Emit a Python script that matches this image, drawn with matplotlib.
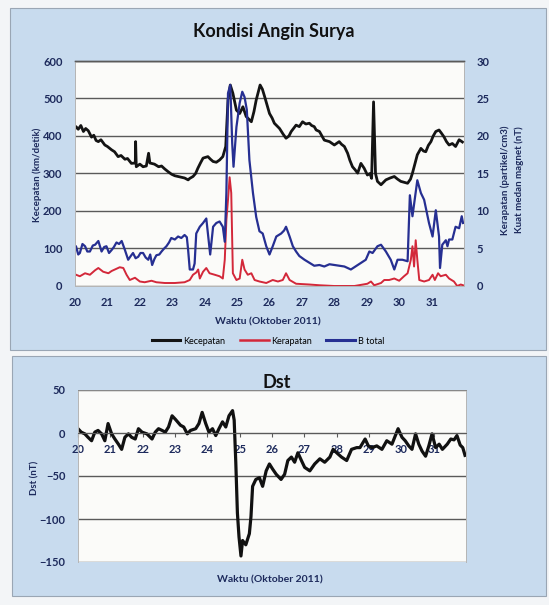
import matplotlib
matplotlib.use('Agg')
import matplotlib.pyplot as plt
from matplotlib.patches import Rectangle
from matplotlib.lines import Line2D

plt.rcParams['font.family'] = ['Lato', 'DejaVu Sans']

# --- data (day of October 2011, value) ---
kec_day = [20.00, 20.03, 20.10, 20.18, 20.26, 20.33, 20.41, 20.51, 20.58, 20.65, 20.72, 20.80, 20.92,
           21.00, 21.13, 21.22, 21.33, 21.42, 21.54, 21.62, 21.74, 21.86, 21.87, 21.89, 22.00, 22.10,
           22.20, 22.27, 22.31, 22.45, 22.58, 22.67, 22.77, 22.87, 22.98, 23.08, 23.18, 23.28, 23.38,
           23.49, 23.54, 23.64, 23.72, 23.79, 23.87, 23.95, 24.10, 24.18, 24.26, 24.36, 24.46, 24.56,
           24.65, 24.72, 24.79, 24.87, 24.98, 25.08, 25.18, 25.28, 25.36, 25.44, 25.52, 25.59, 25.71,
           25.78, 25.85, 26.00, 26.08, 26.15, 26.31, 26.42, 26.51, 26.60, 26.67, 26.82, 26.92, 27.02,
           27.12, 27.23, 27.30, 27.38, 27.44, 27.54, 27.62, 27.69, 27.85, 28.00, 28.15, 28.22, 28.31,
           28.41, 28.48, 28.56, 28.64, 28.72, 28.82, 28.92, 29.02, 29.10, 29.15, 29.21, 29.27, 29.33,
           29.44, 29.59, 29.72, 29.85, 29.95, 30.05, 30.26, 30.35, 30.41, 30.50, 30.56, 30.67, 30.75,
           30.82, 30.90, 30.98, 31.05, 31.13, 31.23, 31.30, 31.38, 31.46, 31.54, 31.64, 31.74, 31.85,
           31.95]
kecepatan = [420, 425, 418, 428, 412, 420, 414, 397, 402, 388, 385, 390, 376,
             372, 363, 358, 345, 348, 338, 340, 327, 328, 385, 318, 325, 318,
             320, 354, 328, 325, 318, 320, 312, 305, 298, 294, 292, 290, 288,
             283, 287, 292, 300, 314, 328, 341, 345, 338, 332, 330, 336, 345,
             372, 496, 536, 514, 469, 460, 478, 452, 445, 438, 465, 496, 536,
             525, 505, 460, 448, 434, 420, 405, 394, 400, 412, 429, 425, 438,
             432, 434, 428, 425, 416, 412, 400, 389, 385, 376, 385, 378, 372,
             354, 335, 318, 310, 301, 327, 314, 296, 300, 287, 491, 300, 279,
             270, 283, 288, 292, 285, 279, 274, 285, 301, 330, 350, 367, 360,
             358, 375, 385, 400, 412, 416, 408, 398, 385, 376, 380, 372, 390,
             384]

rap_day = [20.00, 20.03, 20.15, 20.31, 20.46, 20.62, 20.72, 20.87, 21.03, 21.13, 21.23, 21.38, 21.49,
           21.59, 21.69, 21.85, 22.00, 22.15, 22.36, 22.51, 22.77, 23.08, 23.38, 23.54, 23.64, 23.74,
           23.80, 23.85, 23.95, 24.05, 24.15, 24.31, 24.46, 24.56, 24.62, 24.67, 24.72, 24.77, 24.82,
           24.87, 24.98, 25.08, 25.16, 25.23, 25.33, 25.44, 25.54, 25.69, 25.90, 26.10, 26.26, 26.41,
           26.51, 26.62, 26.82, 27.23, 27.54, 28.00, 28.62, 29.02, 29.13, 29.23, 29.44, 29.54, 29.69,
           29.85, 30.00, 30.15, 30.26, 30.36, 30.41, 30.46, 30.51, 30.56, 30.62, 30.77, 30.92, 31.03,
           31.10, 31.20, 31.28, 31.44, 31.54, 31.69, 31.79, 31.90, 31.97]
kerapatan = [1.6, 1.5, 1.3, 1.7, 1.5, 2.1, 2.4, 1.9, 1.7, 2.0, 2.2, 2.5, 2.4,
             1.5, 0.8, 1.1, 0.6, 0.5, 0.7, 0.5, 0.4, 0.4, 0.5, 0.8, 1.5, 1.8,
             2.2, 1.0, 1.9, 2.4, 1.7, 1.5, 1.3, 1.0, 3.5, 8.8, 11.5, 14.5, 12.4,
             1.7, 0.8, 1.0, 3.5, 2.2, 1.5, 1.7, 0.8, 0.6, 0.4, 0.8, 0.6, 0.8,
             1.7, 0.8, 0.3, 0.2, 0.1, 0.0, 0.0, 0.3, 0.6, 0.1, 0.4, 0.8, 0.8,
             1.0, 0.7, 1.3, 1.7, 3.5, 5.3, 2.6, 6.1, 3.5, 0.8, 0.6, 0.8, 1.5,
             0.8, 1.7, 1.3, 1.5, 1.0, 0.6, 0.0, 0.2, 0.1]

b_day = [20.00, 20.03, 20.10, 20.15, 20.23, 20.31, 20.38, 20.46, 20.55, 20.62, 20.72, 20.82, 20.90,
         20.97, 21.05, 21.13, 21.20, 21.28, 21.36, 21.44, 21.54, 21.64, 21.72, 21.79, 21.87, 21.95,
         22.02, 22.10, 22.18, 22.26, 22.32, 22.38, 22.45, 22.51, 22.60, 22.67, 22.75, 22.82, 22.90,
         22.97, 23.08, 23.18, 23.28, 23.38, 23.45, 23.49, 23.54, 23.64, 23.69, 23.74, 23.85, 23.95,
         24.05, 24.10, 24.17, 24.26, 24.36, 24.46, 24.56, 24.62, 24.67, 24.72, 24.79, 24.85, 24.89,
         24.98, 25.08, 25.16, 25.23, 25.30, 25.38, 25.49, 25.59, 25.69, 25.79, 25.90, 26.00, 26.10,
         26.21, 26.36, 26.45, 26.51, 26.62, 26.72, 26.82, 26.92, 27.08, 27.23, 27.38, 27.54, 27.69,
         27.85, 28.00, 28.15, 28.31, 28.51, 28.72, 28.97, 29.08, 29.18, 29.33, 29.44, 29.59, 29.74,
         29.85, 29.95, 30.10, 30.26, 30.33, 30.41, 30.48, 30.56, 30.67, 30.77, 30.92, 31.03, 31.13,
         31.23, 31.26, 31.33, 31.44, 31.49, 31.54, 31.64, 31.74, 31.85, 31.93, 31.97]
b_total = [5.2, 5.3, 4.2, 4.4, 5.6, 5.3, 4.6, 4.6, 5.4, 5.5, 6.0, 4.6, 5.2,
           5.3, 4.4, 4.8, 5.2, 5.8, 5.6, 6.0, 4.8, 3.5, 4.0, 4.4, 3.7, 3.9,
           4.4, 4.4, 3.8, 3.5, 4.2, 2.8, 3.6, 4.1, 4.2, 4.6, 5.0, 5.3, 5.8,
           6.4, 6.2, 6.6, 6.4, 6.8, 6.5, 4.8, 2.2, 2.2, 3.0, 7.0, 7.9, 8.4,
           9.0, 7.0, 4.2, 7.9, 8.4, 8.6, 7.9, 5.9, 12.4, 25.7, 26.8, 19.0, 15.9,
           21.2, 24.4, 25.9, 25.2, 23.5, 16.8, 12.4, 9.2, 7.3, 7.0, 5.3, 4.2, 5.3,
           6.6, 7.0, 7.4, 7.9, 6.6, 5.3, 4.6, 4.0, 3.5, 3.1, 2.7, 2.8, 2.6,
           2.9, 2.8, 2.7, 2.6, 2.2, 2.8, 3.5, 4.6, 4.4, 5.3, 5.5, 4.6, 3.5,
           2.2, 3.5, 3.5, 3.3, 12.1, 9.3, 11.5, 14.1, 12.4, 11.5, 8.4, 6.6, 10.1,
           6.6, 2.4, 5.5, 6.1, 5.3, 6.2, 6.2, 7.9, 7.7, 9.3, 8.4]

dst_day = [20.00, 20.10, 20.21, 20.31, 20.42, 20.52, 20.62, 20.73, 20.83, 20.93, 21.04, 21.14, 21.25,
           21.35, 21.45, 21.56, 21.66, 21.77, 21.87, 21.98, 22.13, 22.29, 22.39, 22.49, 22.60, 22.70,
           22.80, 22.91, 23.01, 23.17, 23.27, 23.38, 23.48, 23.64, 23.74, 23.84, 23.95, 24.05, 24.16,
           24.26, 24.36, 24.47, 24.57, 24.67, 24.78, 24.83, 24.88, 24.93, 24.98, 25.04, 25.09, 25.19,
           25.30, 25.35, 25.40, 25.50, 25.61, 25.71, 25.82, 25.92, 26.02, 26.13, 26.28, 26.39, 26.49,
           26.60, 26.70, 26.80, 26.91, 27.01, 27.17, 27.32, 27.48, 27.63, 27.79, 27.89, 28.00, 28.15,
           28.31, 28.46, 28.62, 28.72, 28.88, 28.98, 29.09, 29.24, 29.40, 29.55, 29.71, 29.90, 30.02,
           30.12, 30.23, 30.33, 30.44, 30.54, 30.64, 30.75, 30.85, 30.95, 31.06, 31.17, 31.27, 31.42,
           31.53, 31.63, 31.72, 31.82, 31.90, 31.97]
dst = [5, 1, -1, -5, -9, 1, 3, -1, -9, 11, -1, -7, -13,
       -19, -5, -1, -5, -7, 5, 1, -1, -7, 1, 5, 3, 1,
       7, 20, 16, 9, 7, -1, 3, 5, 11, 24, 11, 1, 5,
       -3, 5, 13, 7, 20, 26, 15, -34, -93, -121, -143, -125, -130,
       -117, -97, -62, -54, -52, -62, -44, -36, -42, -48, -54, -48, -32,
       -28, -34, -23, -32, -40, -44, -36, -30, -34, -28, -19, -23, -28,
       -32, -19, -17, -17, -7, -15, -17, -15, -19, -9, -13, 5, -5,
       -9, -15, -19, -1, -13, -21, -27, -15, -1, -17, -13, -19, -13,
       -7, -8, -3, -14, -17, -26]

days = list(range(20, 32))

navy = '#1d2a5c'
panel_blue = '#c8dbee'
grid_grey = '#5a5a5a'

fig = plt.figure(figsize=(5.49, 6.05), dpi=100, facecolor='#f3f5f7')

# light blue chart panels (behind the axes)
fig.patches.append(Rectangle((10/549, 1-350/605), 536/549, 342/605, transform=fig.transFigure,
                             facecolor=panel_blue, edgecolor='#9aa6b4', lw=0.8, zorder=-10))
fig.patches.append(Rectangle((12/549, 1-596/605), 534/549, 240/605, transform=fig.transFigure,
                             facecolor=panel_blue, edgecolor='#9aa6b4', lw=0.8, zorder=-10))

# ---------- Kondisi Angin Surya ----------
ax1 = fig.add_axes([75/549, 1-286/605, 389/549, 225/605])
ax1.set_facecolor('#fbfbf9')
ax1.plot(kec_day, kecepatan, color='#141414', lw=2.0, label='Kecepatan')
ax1.set_xlim(20, 32)
ax1.set_ylim(0, 600)
ax1.set_yticks(range(0, 601, 100))
ax1.set_xticks(days)
ax1.yaxis.grid(True, color=grid_grey, lw=1.0)
ax1.set_axisbelow(True)

ax2 = ax1.twinx()
ax2.plot(rap_day, kerapatan, color='#d3283a', lw=1.4, label='Kerapatan')
ax2.plot(b_day, b_total, color='#262f92', lw=1.6, label='B total')
ax2.set_ylim(0, 30)
ax2.set_yticks(range(0, 31, 5))

for a in (ax1, ax2):
    for s in a.spines.values():
        s.set_color('#b5b5b5')
        s.set_linewidth(0.7)
    a.spines['top'].set_color(grid_grey)
    a.spines['top'].set_linewidth(1.0)
ax1.tick_params(axis='both', length=0, labelsize=8, labelcolor=navy)
ax1.tick_params(axis='x', pad=8)
ax1.tick_params(axis='y', pad=9)
ax2.tick_params(axis='y', length=0, labelsize=8, labelcolor=navy, pad=9)
for lab in ax1.get_xticklabels() + ax1.get_yticklabels() + ax2.get_yticklabels():
    lab.set_fontweight('bold')

fig.text(274/549, 1-32/605, 'Kondisi Angin Surya', ha='center', va='center',
         fontsize=13, fontweight='bold', color='#111111')
fig.text(37/549, 1-175/605, 'Kecepatan (km/detik)', rotation=90, ha='center', va='center',
         fontsize=7, fontweight='bold', color=navy)
fig.text(505/549, 1-180/605, 'Kerapatan (partikel/cm3)', rotation=90, ha='center', va='center',
         fontsize=7, fontweight='bold', color=navy)
fig.text(519/549, 1-180/605, 'Kuat medan magnet (nT)', rotation=90, ha='center', va='center',
         fontsize=7, fontweight='bold', color=navy)
fig.text(268/549, 1-322/605, 'Waktu (Oktober 2011)', ha='center', va='center',
         fontsize=7.5, fontweight='bold', color=navy)

handles = [Line2D([], [], color='#141414', lw=2.2),
           Line2D([], [], color='#d3283a', lw=1.8),
           Line2D([], [], color='#262f92', lw=2.2)]
fig.legend(handles, ['Kecepatan', 'Kerapatan', 'B total'], loc='center',
           bbox_to_anchor=(268/549, 1-341/605), ncol=3, frameon=False,
           fontsize=6.5, handlelength=3.2, handletextpad=0.3, columnspacing=1.6)

# ---------- Dst ----------
ax3 = fig.add_axes([78/549, 1-562/605, 388/549, 172/605])
ax3.set_facecolor('#fbfbf9')
ax3.plot(dst_day, dst, color='#111111', lw=2.3)
ax3.set_xlim(20, 32)
ax3.set_ylim(-150, 50)
ax3.set_yticks(range(-150, 51, 50))
ax3.set_xticks(days)
ax3.yaxis.grid(True, color=grid_grey, lw=1.0)
ax3.set_axisbelow(True)
for s in ax3.spines.values():
    s.set_color('#b5b5b5')
    s.set_linewidth(0.7)
ax3.spines['top'].set_color('#8a8a8a')
ax3.spines['bottom'].set_position(('data', 0))
ax3.spines['bottom'].set_color(grid_grey)
ax3.tick_params(axis='x', length=3, color=grid_grey, labelsize=8, labelcolor=navy, pad=5)
ax3.tick_params(axis='y', length=0, labelsize=8, labelcolor=navy, pad=9)
for lab in ax3.get_xticklabels() + ax3.get_yticklabels():
    lab.set_fontweight('bold')

fig.text(277/549, 1-382/605, 'Dst', ha='center', va='center',
         fontsize=13, fontweight='bold', color='#111111')
fig.text(35/549, 1-478/605, 'Dst (nT)', rotation=90, ha='center', va='center',
         fontsize=7, fontweight='bold', color=navy)
fig.text(270/549, 1-580/605, 'Waktu (Oktober 2011)', ha='center', va='center',
         fontsize=7.5, fontweight='bold', color=navy)

fig.savefig('out.png', dpi=100, facecolor=fig.get_facecolor())
